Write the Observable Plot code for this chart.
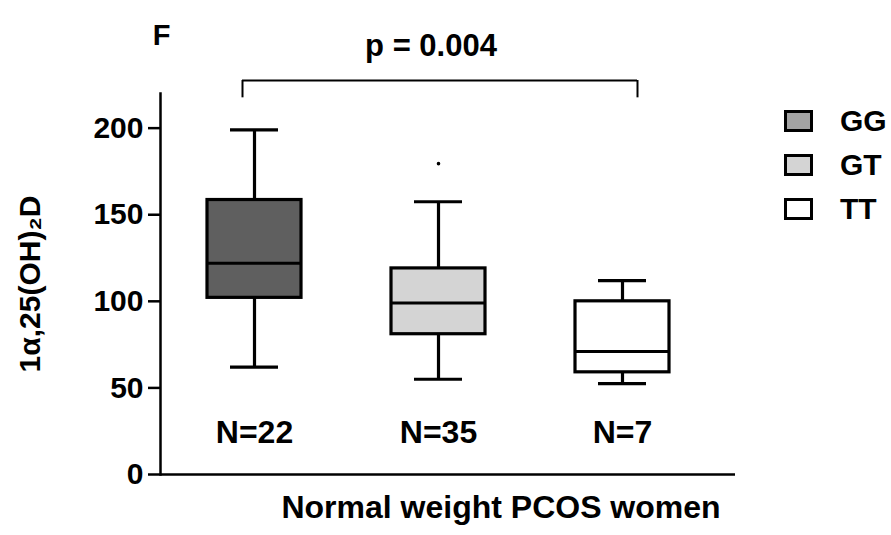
<!DOCTYPE html>
<html>
<head>
<meta charset="utf-8">
<script src="https://cdn.jsdelivr.net/npm/d3@7"></script>
<script src="https://cdn.jsdelivr.net/npm/@observablehq/plot@0.6"></script>
<style>
  body { margin: 0; background: #fff; }
  #wrap { position: relative; width: 891px; height: 535px; font-family: "Liberation Sans", Arial, sans-serif; }
  #legend { position: absolute; left: 784px; top: 106px; }
  .row { display: flex; align-items: center; height: 29px; margin-bottom: 15px; }
  .sw { width: 29px; height: 22px; box-sizing: border-box; border: 3px solid #000; }
  .lab { margin-left: 27px; font-size: 30px; font-weight: bold; line-height: 29px; }
</style>
</head>
<body>
<div id="wrap"><div id="legend"></div></div>
<script>
// ---- data ----
const groups = ["GG", "GT", "TT"];
const whiskerLow = [62, 55, 52.5];
const quartile1 = [102, 81, 59];
const medians = [122, 99, 71];
const quartile3 = [158.5, 119, 100];
const whiskerHigh = [199, 157.5, 112];
const outlierGroups = ["GT"];
const outlierValues = [179.5];
const nLabels = ["N=22", "N=35", "N=7"];
const boxFills = ["#5f5f5f", "#d4d4d4", "#ffffff"];
const legendFills = ["#a3a3a3", "#d4d4d4", "#ffffff"];
const yTicks = [0, 50, 100, 150, 200];
const pText = "p = 0.004";
const bracket = [{from: "GG", to: "TT", top: 227.5, bottom: 217.5}];
const yLabel = "1α,25(OH)₂D";
const xTitle = "Normal weight PCOS women";
const panelLetter = "F";

const boxes = groups.map((g, i) => ({
  g, lo: whiskerLow[i], q1: quartile1[i], med: medians[i], q3: quartile3[i], hi: whiskerHigh[i], n: nLabels[i]
}));
const outliers = outlierGroups.map((g, i) => ({g, v: outlierValues[i]}));

const font = {fontWeight: "bold", fontFamily: "Liberation Sans, Arial, sans-serif"};

const chart = Plot.plot({
  width: 891,
  height: 535,
  marginLeft: 160,
  marginRight: 156,
  marginTop: 93,
  marginBottom: 61,
  style: {background: "white", color: "black", fontFamily: "Liberation Sans, Arial, sans-serif", overflow: "visible"},
  x: {domain: groups, range: [206, 670], paddingInner: 0.49, paddingOuter: 0, axis: null},
  y: {domain: [0, 220], axis: null},
  color: {domain: groups, range: boxFills},
  marks: [
    Plot.axisY({ticks: yTicks, tickSize: 12, tickPadding: 5, tickFormat: d => String(d), label: null, fontSize: 30, fontWeight: "bold", strokeWidth: 2.5}),
    Plot.frame({anchor: "left", strokeWidth: 2.5}),
    Plot.ruleY([0], {strokeWidth: 2.5}),
    // whiskers
    Plot.ruleX(boxes, {x: "g", y1: "lo", y2: "q1", strokeWidth: 3.2}),
    Plot.ruleX(boxes, {x: "g", y1: "q3", y2: "hi", strokeWidth: 3.2}),
    Plot.tickY(boxes, {x: "g", y: "lo", insetLeft: 23, insetRight: 23, strokeWidth: 3.2}),
    Plot.tickY(boxes, {x: "g", y: "hi", insetLeft: 23, insetRight: 23, strokeWidth: 3.2}),
    // boxes
    Plot.barY(boxes, {x: "g", y1: "q1", y2: "q3", fill: "g", stroke: "black", strokeWidth: 3.2}),
    Plot.tickY(boxes, {x: "g", y: "med", strokeWidth: 3}),
    // outlier
    Plot.dot(outliers, {x: "g", y: "v", r: 1.8, fill: "black"}),
    // N labels
    Plot.text(boxes, {x: "g", text: "n", frameAnchor: "bottom", dy: -32, fontSize: 32, ...font}),
    // significance bracket
    Plot.ruleY(bracket, {x1: "from", x2: "to", y: "top", insetLeft: 35, insetRight: 32, strokeWidth: 2}),
    Plot.ruleX(bracket, {x: "from", y1: "bottom", y2: "top", dx: -12, strokeWidth: 2}),
    Plot.ruleX(bracket, {x: "to", y1: "bottom", y2: "top", dx: 15, strokeWidth: 2}),
    Plot.text([pText], {frameAnchor: "top", dx: -17, dy: -60, fontSize: 31, ...font}),
    Plot.text([panelLetter], {frameAnchor: "top-left", dx: 1, dy: -69, textAnchor: "middle", fontSize: 29, ...font}),
    // y label
    Plot.text([yLabel], {frameAnchor: "left", textAnchor: "middle", dx: -130, rotate: -90, fontSize: 30, ...font}),
    // x title
    Plot.text([xTitle], {frameAnchor: "bottom", dx: 53, dy: 43, fontSize: 32, ...font})
  ]
});

const wrap = document.getElementById("wrap");
wrap.insertBefore(chart, wrap.firstChild);

const legend = document.getElementById("legend");
groups.forEach((g, i) => {
  const row = document.createElement("div");
  row.className = "row";
  const sw = document.createElement("div");
  sw.className = "sw";
  sw.style.background = legendFills[i];
  const lab = document.createElement("div");
  lab.className = "lab";
  lab.textContent = g;
  row.appendChild(sw);
  row.appendChild(lab);
  legend.appendChild(row);
});
</script>
</body>
</html>
